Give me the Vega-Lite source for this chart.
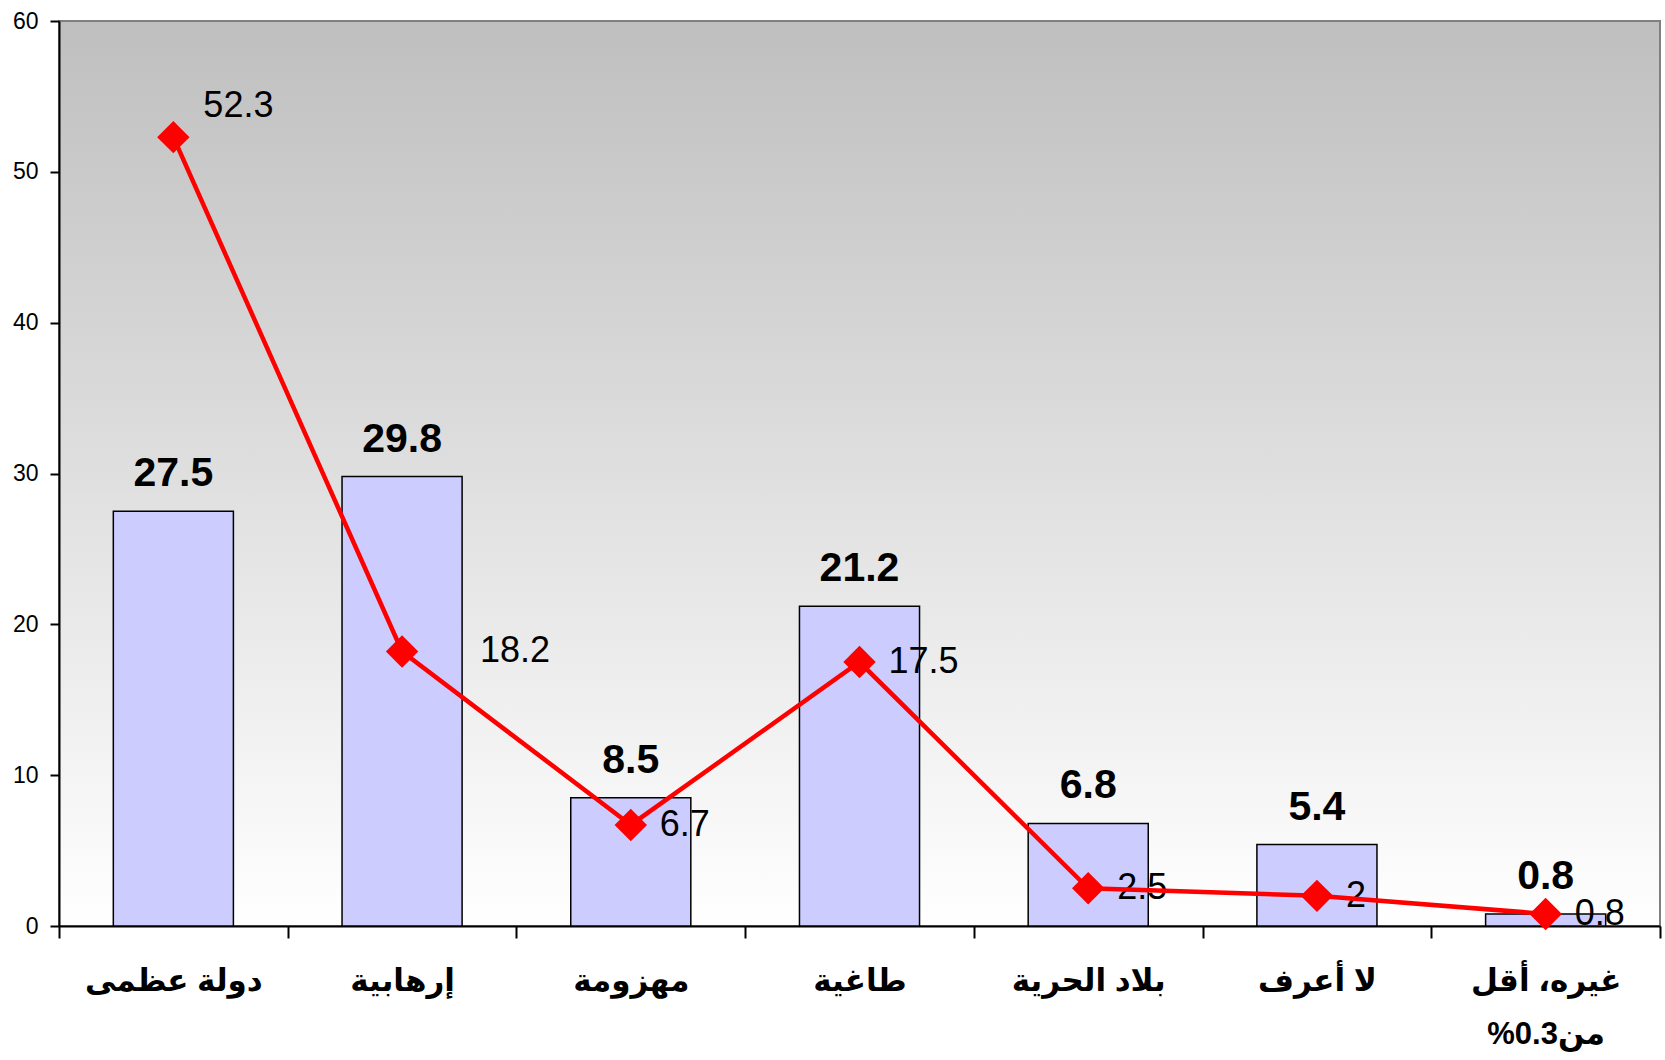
{
  "$schema": "https://vega.github.io/schema/vega-lite/v6.json",
  "width": 1601,
  "height": 905,
  "autosize": {"type": "none"},
  "padding": {"left": 59, "top": 21, "right": 5, "bottom": 134},
  "background": "#FFFFFF",
  "config": {
    "view": {
      "fill": {"gradient": "linear", "x1": 0, "y1": 0, "x2": 0, "y2": 1,
        "stops": [{"offset": 0, "color": "#BFBFBF"}, {"offset": 1, "color": "#FFFFFF"}]},
      "stroke": "#808080",
      "strokeWidth": 2
    },
    "font": "Liberation Sans, DejaVu Sans"
  },
  "data": {
    "values": [
      {"cat": "دولة عظمى", "bar": 27.5, "line": 52.3},
      {"cat": "إرهابية", "bar": 29.8, "line": 18.2},
      {"cat": "مهزومة", "bar": 8.5, "line": 6.7},
      {"cat": "طاغية", "bar": 21.2, "line": 17.5},
      {"cat": "بلاد الحرية", "bar": 6.8, "line": 2.5},
      {"cat": "لا أعرف", "bar": 5.4, "line": 2},
      {"cat": "غيره، أقل\n%0.3من", "bar": 0.8, "line": 0.8}
    ]
  },
  "encoding": {
    "x": {
      "field": "cat", "type": "nominal", "sort": null,
      "scale": {"paddingInner": 0, "paddingOuter": 0},
      "axis": {
        "title": null, "labelAngle": 0, "tickBand": "extent",
        "domainColor": "#000000", "domainWidth": 2,
        "tickColor": "#000000", "tickWidth": 2, "tickSize": 12,
        "labelFont": "Liberation Sans, DejaVu Sans", "labelFontWeight": "bold",
        "labelFontSize": 31, "labelColor": "#000000", "labelPadding": 28,
        "labelLineHeight": 53,
        "labelExpr": "split(datum.label, '\\n')"
      }
    }
  },
  "layer": [
    {
      "mark": {"type": "bar", "fill": "#CCCCFF", "stroke": "#000000", "strokeWidth": 1.5, "width": {"band": 0.525}},
      "encoding": {
        "y": {
          "field": "bar", "type": "quantitative",
          "scale": {"domain": [0, 60], "nice": false},
          "axis": {
            "title": null, "values": [0, 10, 20, 30, 40, 50, 60], "grid": false,
            "domainColor": "#000000", "domainWidth": 2,
            "tickColor": "#000000", "tickWidth": 2, "tickSize": 9,
            "labelFontSize": 23, "labelColor": "#000000", "labelPadding": 12,
            "labelFont": "Liberation Sans"
          }
        }
      }
    },
    {
      "mark": {"type": "text", "fontWeight": "bold", "fontSize": 41, "font": "Liberation Sans", "baseline": "alphabetic", "dy": -25, "color": "#000000"},
      "encoding": {
        "y": {"field": "bar", "type": "quantitative"},
        "text": {"field": "bar", "type": "quantitative"}
      }
    },
    {
      "transform": [{"filter": "datum.line != 52.3 && datum.line != 18.2"}],
      "mark": {"type": "text", "fontSize": 36, "font": "Liberation Sans", "align": "left", "baseline": "middle", "dx": 29, "color": "#000000"},
      "encoding": {
        "y": {"field": "line", "type": "quantitative"},
        "text": {"field": "line", "type": "quantitative"}
      }
    },
    {
      "transform": [{"filter": "datum.line == 52.3"}],
      "mark": {"type": "text", "fontSize": 36, "font": "Liberation Sans", "align": "left", "baseline": "middle", "dx": 30, "dy": -31, "color": "#000000"},
      "encoding": {
        "y": {"field": "line", "type": "quantitative"},
        "text": {"field": "line", "type": "quantitative"}
      }
    },
    {
      "transform": [{"filter": "datum.line == 18.2"}],
      "mark": {"type": "text", "fontSize": 36, "font": "Liberation Sans", "align": "left", "baseline": "middle", "dx": 78, "color": "#000000"},
      "encoding": {
        "y": {"field": "line", "type": "quantitative"},
        "text": {"field": "line", "type": "quantitative"}
      }
    },
    {
      "mark": {"type": "line", "color": "#FF0000", "strokeWidth": 4.5},
      "encoding": {
        "y": {"field": "line", "type": "quantitative"}
      }
    },
    {
      "mark": {"type": "point", "shape": "diamond", "filled": true, "color": "#FF0000", "size": 1050, "opacity": 1},
      "encoding": {
        "y": {"field": "line", "type": "quantitative"}
      }
    }
  ]
}
